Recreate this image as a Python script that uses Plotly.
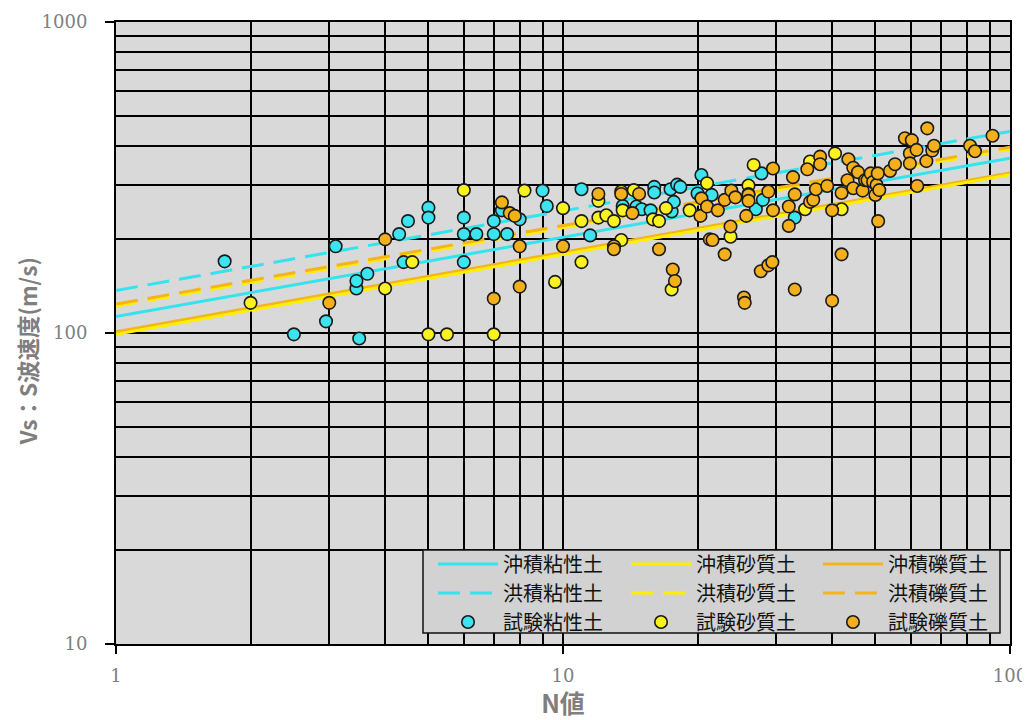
import plotly.graph_objects as go

# ---- fitted relations (end points: N=1 and N=100) ----
line_N = [1, 100]
line_vs_ac = [113, 365]   # 沖積粘性土
line_vs_as = [99, 323]    # 沖積砂質土
line_vs_ag = [101, 327]   # 沖積礫質土
line_vs_dc = [137, 445]   # 洪積粘性土
line_vs_ds = [122, 390]   # 洪積砂質土
line_vs_dg = [124, 396]   # 洪積礫質土

# ---- test data ----
clay_N = [1.75, 2.5, 2.95, 3.1, 3.45, 3.45, 3.5, 3.65, 4.3, 4.4, 4.5, 5, 5, 6, 6, 6, 6.4, 7, 7, 7.3,
          7.5, 8, 9, 9.2, 11, 11.5, 13.6, 14.6, 15, 15.7, 16, 16, 17.4, 17.5, 17.7, 18, 18.3, 20, 20.4, 21.5,
          27, 27.8, 28, 33]
clay_Vs = [170, 99, 109, 190, 139, 147, 96, 155, 208, 169, 229, 253, 235, 235, 208, 169, 208, 229, 208, 248,
           208, 232, 287, 256, 290, 206, 256, 255, 250, 248, 295, 283, 290, 246, 264, 300, 295, 281, 322, 278,
           250, 326, 268, 235]

sand_N = [2, 4, 4.6, 5, 5.5, 6, 7, 8.2, 9.6, 10, 11, 11, 12, 12, 12.5, 13, 13.5, 13.5, 13.6, 14.4,
          15.9, 16.4, 17, 17.5, 19.2, 21, 23.7, 26, 26, 26.7, 34.8, 35.7, 40.6, 42]
sand_Vs = [125, 139, 169, 99, 99, 288, 99, 287, 146, 252, 169, 229, 266, 235, 239, 229, 199, 285, 248, 288,
           232, 229, 252, 138, 248, 303, 204, 298, 280, 347, 250, 356, 378, 250]

gravel_N = [3, 4, 7, 7.3, 7.6, 7.8, 8, 8, 10, 12, 13, 13, 13.5, 14.3, 14.8, 16.4, 17.6, 17.8, 20.3, 20.4,
            21, 21.3, 21.6, 22.2, 23, 23, 23.7, 23.8, 24.3, 25.4, 25.5, 25.7, 26, 26, 27.7, 28.8, 28.8, 29.4, 29.5, 29.5,
            32, 32, 32.7, 33, 33, 35.2, 35.7, 36.3, 36.8, 37.6, 37.6, 39, 40, 40, 42, 42, 43.3, 43.5, 44.6, 44.6,
            45.7, 46.8, 47.4, 48, 48.8, 49.4, 50, 50.3, 50.6, 50.7, 51, 53.9, 55.3, 58.2, 59.7, 59.7, 60.3, 61.8, 62, 65,
            65.3, 67, 67.6, 81.4, 83.5, 91.4]
gravel_Vs = [125, 200, 129, 263, 243, 238, 190, 141, 190, 280, 190, 186, 280, 243, 280, 186, 160, 147, 238, 271,
             255, 200, 199, 248, 268, 179, 220, 287, 273, 130, 125, 238, 278, 266, 158, 285, 165, 169, 338, 248,
             255, 221, 317, 279, 138, 336, 264, 268, 290, 369, 349, 297, 248, 127, 282, 179, 310, 362, 340, 292,
             329, 287, 310, 310, 326, 306, 278, 299, 326, 229, 288, 332, 349, 423, 378, 351, 417, 388, 297, 357,
             455, 386, 400, 400, 384, 431]

y_title = "Vs：S波速度(m/s)"
x_title = "N値"

C_CLAY = "#3BE4EE"
C_SAND = "#FAF21E"
C_GRAV = "#F4B01C"
L_CLAY = "#33E3EE"
L_SAND = "#FFEE00"
L_GRAV = "#F5B41A"

DASH = "22px,10px"
LW = 3

fig = go.Figure()

# legend column per soil type
LEG = {"clay": "legend", "sand": "legend2", "grav": "legend3"}

def add_line(name, vs, color, dash, leg, rank):
    fig.add_trace(go.Scatter(x=line_N, y=vs, mode="lines", name=name,
                             line=dict(color=color, width=LW, dash=dash),
                             legend=leg, legendrank=rank, hoverinfo="skip"))

# drawing order: orange under yellow for solid, yellow under orange for dashed
add_line("沖積礫質土", line_vs_ag, L_GRAV, "solid", LEG["grav"], 1)
add_line("沖積砂質土", line_vs_as, L_SAND, "solid", LEG["sand"], 1)
add_line("沖積粘性土", line_vs_ac, L_CLAY, "solid", LEG["clay"], 1)
add_line("洪積砂質土", line_vs_ds, L_SAND, DASH, LEG["sand"], 2)
add_line("洪積礫質土", line_vs_dg, L_GRAV, DASH, LEG["grav"], 2)
add_line("洪積粘性土", line_vs_dc, L_CLAY, DASH, LEG["clay"], 2)

def add_pts(name, xs, ys, color, leg):
    fig.add_trace(go.Scatter(x=xs, y=ys, mode="markers", name=name,
                             marker=dict(size=12.5, color=color, line=dict(color="#1a1a1a", width=1.6)),
                             legend=leg, legendrank=3))

add_pts("試験粘性土", clay_N, clay_Vs, C_CLAY, LEG["clay"])
add_pts("試験砂質土", sand_N, sand_Vs, C_SAND, LEG["sand"])
add_pts("試験礫質土", gravel_N, gravel_Vs, C_GRAV, LEG["grav"])

tickfont = dict(family="DejaVu Serif", size=18, color="#808080")

fig.add_annotation(
    text=y_title, textangle=-90, showarrow=False,
    xref="paper", yref="paper", x=-0.1, y=0.47, xanchor="center", yanchor="middle",
    font=dict(family="Noto Sans CJK JP", size=22.5, color="#7f7f7f", weight="bold"),
)

# legend frame
fig.add_shape(type="rect", xref="paper", yref="paper",
              x0=0.3434, x1=0.9888, y0=0.0177, y1=0.1511,
              fillcolor="#d2d2d2", line=dict(color="#111111", width=1.5), layer="above")

legfont = dict(family="Noto Sans CJK JP", size=20, color="#111111")
def leg(xpos):
    return dict(orientation="v", x=xpos, y=0.082, xanchor="left", yanchor="middle",
                bgcolor="rgba(0,0,0,0)", borderwidth=0, font=legfont, itemwidth=60,
                traceorder="normal", tracegroupgap=0)

fig.update_layout(
    width=1022, height=712,
    margin=dict(l=108, r=20, t=14, b=76),
    paper_bgcolor="white",
    plot_bgcolor="#d9d9d9",
    font=dict(family="Noto Sans CJK JP"),
    showlegend=True,
    legend=leg(0.3546),
    legend2=leg(0.5705),
    legend3=leg(0.7852),
    xaxis=dict(
        type="log", range=[0, 2], automargin=False,
        tickvals=[1, 10, 100], ticktext=["1", "10", "100"],
        ticks="outside", ticklen=8, tickwidth=1.5, tickcolor="black",
        ticklabelstandoff=6,
        tickfont=tickfont,
        showgrid=True, gridcolor="black", gridwidth=2,
        minor=dict(dtick="D1", showgrid=True, gridcolor="black", gridwidth=1.8, ticks=""),
        showline=True, linecolor="black", linewidth=2, mirror=True,
        zeroline=False,
        title=dict(text=x_title, font=dict(family="Noto Sans CJK JP", size=25, color="#7f7f7f", weight="bold"), standoff=0),
    ),
    yaxis=dict(
        type="log", range=[1, 3], automargin=False,
        tickvals=[10, 100, 1000], ticktext=["10", "100", "1000"],
        ticks="outside", ticklen=9, tickwidth=1.5, tickcolor="black",
        ticklabelstandoff=14,
        tickfont=tickfont,
        showgrid=True, gridcolor="black", gridwidth=2,
        minor=dict(dtick="D1", showgrid=True, gridcolor="black", gridwidth=1.8, ticks=""),
        showline=True, linecolor="black", linewidth=2, mirror=True,
        zeroline=False,
    ),
)

fig.write_html("out.html")
